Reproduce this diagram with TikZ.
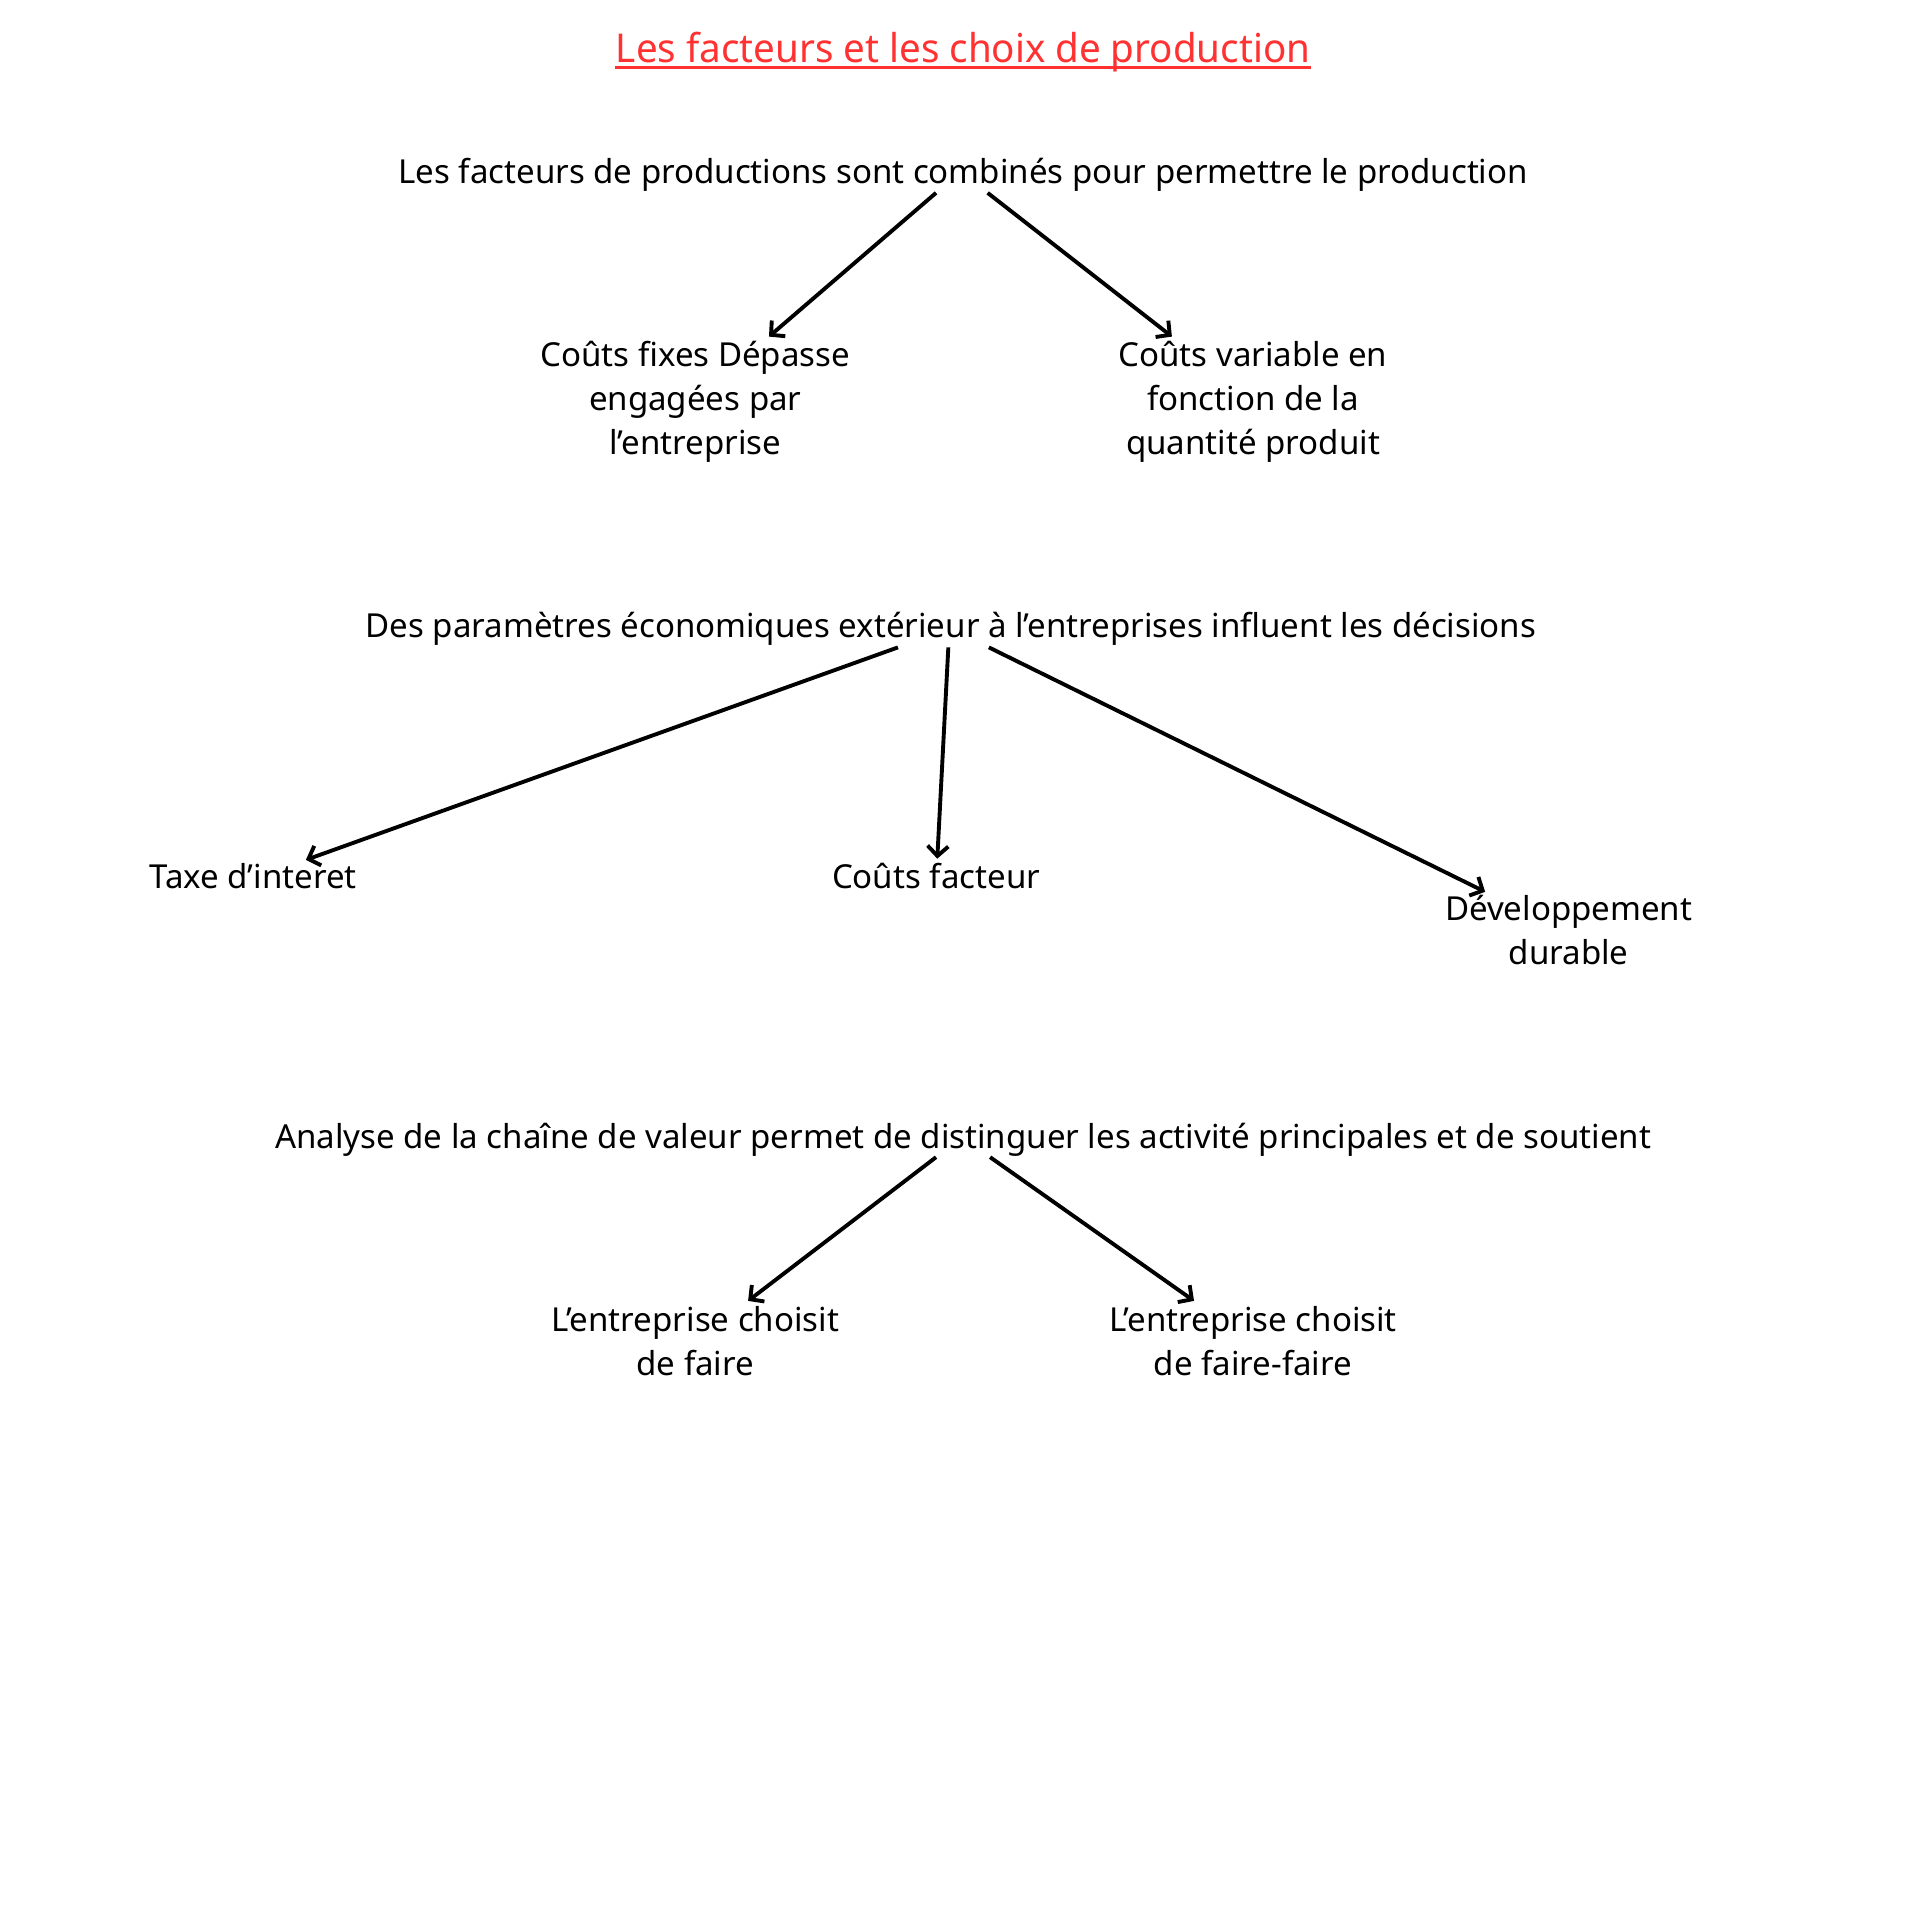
\documentclass[tikz,border=0pt]{standalone}
\usepackage{fontspec}
\setmainfont{Noto Sans}
\newfontfamily\titlefont[FakeStretch=0.97]{Noto Sans}
\usetikzlibrary{arrows.meta}
\definecolor{titlered}{HTML}{FF3131}
\tikzset{
  txt/.style={inner sep=0pt, align=center, font=\fontsize{7.65pt}{10.24pt}\selectfont, text=black},
  arr/.style={line width=0.9pt, -{Straight Barb[length=2.3pt,width=4.8pt,line width=0.9pt]}},
}
\begin{document}
\begin{tikzpicture}[x=0.01cm,y=-0.01cm]
\useasboundingbox[fill=white] (0,0) rectangle (1563,1563);
% title
\node[inner sep=0pt, anchor=base, text=titlered, font=\titlefont\fontsize{9.2pt}{11pt}\selectfont] (title) at (784,51) {Les facteurs et les choix de production};
\draw[titlered, line width=0.7pt] (title.west |- 0,55) -- (title.east |- 0,55);
% level 1
\node[txt, anchor=base] (t1) at (784,149) {Les facteurs de productions sont combinés pour permettre le production};
\node[txt, anchor=base] (a) at (566,370) {Coûts fixes Dépasse\\engagées par\\l’entreprise};
\node[txt, anchor=base] (b) at (1020,370) {Coûts variable en\\fonction de la\\quantité produit};
\coordinate (t1l) at (762,157);
\coordinate (t1r) at (804,157);
\coordinate (ae) at (626,274);
\coordinate (be) at (954,274);
\draw[arr] (t1l) -- (ae);
\draw[arr] (t1r) -- (be);
% level 2
\node[txt, anchor=base] (t2) at (774,519) {Des paramètres économiques extérieur à l’entreprises influent les décisions};
\node[txt, anchor=base] (c) at (206,723) {Taxe d’interet};
\node[txt, anchor=base] (d) at (762,723) {Coûts facteur};
\node[txt, anchor=base] (e) at (1277,785) {Développement\\durable};
\coordinate (t2l) at (731,527);
\coordinate (t2m) at (772,527);
\coordinate (t2r) at (805,527);
\coordinate (ce) at (249,700);
\coordinate (de) at (763,699);
\coordinate (ee) at (1209,726);
\draw[arr] (t2l) -- (ce);
\draw[arr] (t2m) -- (de);
\draw[arr] (t2r) -- (ee);
% level 3
\node[txt, anchor=base] (t3) at (784,935) {Analyse de la chaîne de valeur permet de distinguer les activité principales et de soutient};
\node[txt, anchor=base] (f) at (566,1120) {L’entreprise choisit\\de faire};
\node[txt, anchor=base] (g) at (1020,1120) {L’entreprise choisit\\de faire-faire};
\coordinate (t3l) at (762,942);
\coordinate (t3r) at (806,942);
\coordinate (fe) at (609,1059);
\coordinate (ge) at (972,1059);
\draw[arr] (t3l) -- (fe);
\draw[arr] (t3r) -- (ge);
\end{tikzpicture}
\end{document}
